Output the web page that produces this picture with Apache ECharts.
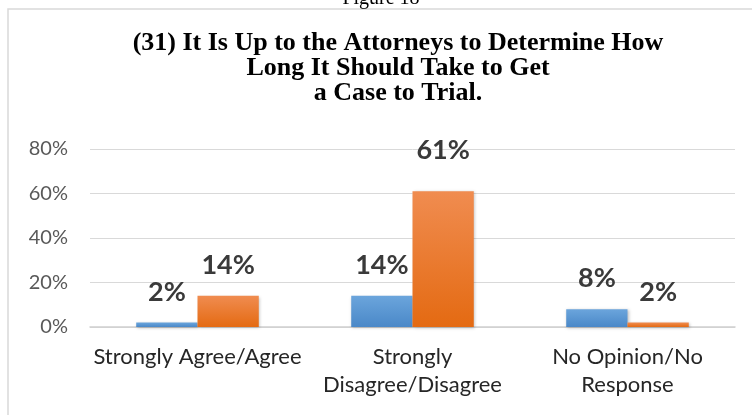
<!DOCTYPE html>
<html>
<head>
<meta charset="utf-8">
<title>Figure 18</title>
<script src="https://cdn.jsdelivr.net/npm/echarts@6/dist/echarts.min.js"></script>
<style>
  html, body { margin: 0; padding: 0; background: #fff; }
  #chart { width: 752px; height: 415px; }
</style>
</head>
<body>
<div id="chart"></div>
<script>
// categories and values (percent)
var categories = ["Strongly Agree/Agree", "Strongly\nDisagree/Disagree", "No Opinion/No\nResponse"];
var blueValues = [2, 14, 8];
var orangeValues = [14, 61, 2];
var yTicks = [0, 20, 40, 60, 80];

function grad(top, bottom) {
  return new echarts.graphic.LinearGradient(0, 0, 0, 1, [
    { offset: 0, color: top },
    { offset: 1, color: bottom }
  ]);
}

var labelStyle = {
  show: true,
  position: "top",
  distance: 17,
  fontFamily: "Lato",
  fontWeight: "bold",
  fontSize: 27,
  color: "#3a3a3a",
  formatter: "{c}%"
};

var chart = echarts.init(document.getElementById("chart"));
chart.setOption({
  animation: false,
  graphic: [{
    type: "rect",
    shape: { x: 8, y: 9, width: 760, height: 420 },
    style: { fill: "none", stroke: "#d9d9d9", lineWidth: 1.5 }
  }],
  title: [{
    text: "Figure 18",
    left: 376,
    textAlign: "center",
    top: -16,
    textStyle: { fontFamily: "Liberation Serif", fontWeight: "normal", fontSize: 20, color: "#000" }
  }, {
    text: "(31) It Is Up to the Attorneys to Determine How\nLong It Should Take to Get\na Case to Trial.",
    left: 393,
    textAlign: "center",
    top: 26,
    textStyle: { fontFamily: "Liberation Serif", fontWeight: "bold", fontSize: 26, lineHeight: 25, color: "#000" }
  }],
  grid: { left: 90, right: 17, top: 149, bottom: 88 },
  xAxis: {
    type: "category",
    data: categories,
    axisTick: { show: false },
    axisLine: { lineStyle: { color: "#d0d0d0", width: 1.5 } },
    axisLabel: { fontFamily: "Lato", fontSize: 22, lineHeight: 28, color: "#262626", margin: 16, interval: 0 }
  },
  yAxis: {
    type: "value",
    min: yTicks[0],
    max: yTicks[yTicks.length - 1],
    interval: 20,
    axisLine: { show: false },
    axisTick: { show: false },
    splitLine: { lineStyle: { color: "#d9d9d9" } },
    axisLabel: { fontFamily: "Lato", fontSize: 20, color: "#595959", margin: 22, formatter: "{value}%" }
  },
  series: [{
    type: "bar",
    data: blueValues,
    barGap: "0%",
    barCategoryGap: "43%",
    itemStyle: { color: grad("#6ba5dc", "#4a88c8"), shadowBlur: 3, shadowColor: "rgba(0,0,0,0.25)", shadowOffsetX: 1, shadowOffsetY: 1 },
    label: labelStyle
  }, {
    type: "bar",
    data: orangeValues.map(function (v, i) {
      return i === 1 ? { value: v, label: { distance: 27 } } : v;
    }),
    itemStyle: { color: grad("#f08c50", "#e46a12"), shadowBlur: 3, shadowColor: "rgba(0,0,0,0.25)", shadowOffsetX: 1, shadowOffsetY: 1 },
    label: labelStyle
  }]
});
</script>
</body>
</html>
